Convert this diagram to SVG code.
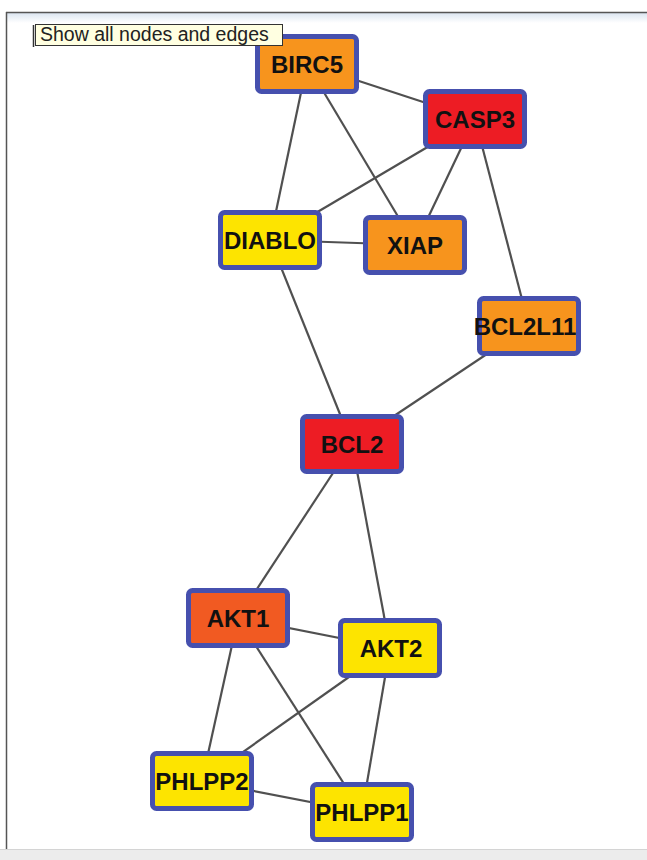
<svg xmlns="http://www.w3.org/2000/svg" width="647" height="860" viewBox="0 0 647 860">
<defs>
<linearGradient id="topg" x1="0" y1="0" x2="0" y2="1">
<stop offset="0" stop-color="#dbe5f0"/>
<stop offset="1" stop-color="#ffffff"/>
</linearGradient>
</defs>
<style>
.node rect{stroke:#4650ae;stroke-width:5}
.node text{font-family:"Liberation Sans",Arial,sans-serif;font-weight:bold;font-size:24px;fill:#111;text-anchor:middle}
.or{fill:#f7941d}
.rd{fill:#ed1c24}
.ye{fill:#fde400}
.ak{fill:#f15a22}
#edges line{stroke:#505050;stroke-width:2.2}
</style>
<rect x="0" y="0" width="647" height="860" fill="#ffffff"/>
<rect x="6" y="13" width="641" height="10" fill="url(#topg)"/>
<line x1="6" y1="12.5" x2="647" y2="12.5" stroke="#555" stroke-width="1.5"/>
<line x1="6.5" y1="12" x2="6.5" y2="850" stroke="#555" stroke-width="1.5"/>
<rect x="0" y="850" width="647" height="10" fill="#ececec"/>
<line x1="0" y1="849.5" x2="647" y2="849.5" stroke="#d4d4d4" stroke-width="1"/>
<g id="edges">
<line x1="307" y1="64" x2="475" y2="119"/>
<line x1="307" y1="64" x2="270" y2="240"/>
<line x1="307" y1="64" x2="415" y2="245"/>
<line x1="475" y1="119" x2="270" y2="240"/>
<line x1="475" y1="119" x2="415" y2="245"/>
<line x1="475" y1="119" x2="529" y2="326"/>
<line x1="270" y1="240" x2="415" y2="245"/>
<line x1="270" y1="240" x2="352" y2="444"/>
<line x1="529" y1="326" x2="352" y2="444"/>
<line x1="352" y1="444" x2="238" y2="618"/>
<line x1="352" y1="444" x2="390" y2="648"/>
<line x1="238" y1="618" x2="390" y2="648"/>
<line x1="238" y1="618" x2="202" y2="781"/>
<line x1="238" y1="618" x2="362" y2="812"/>
<line x1="390" y1="648" x2="202" y2="781"/>
<line x1="390" y1="648" x2="362" y2="812"/>
<line x1="202" y1="781" x2="362" y2="812"/>
</g>
<g id="node-BIRC5" class="node"><rect class="or" x="257.5" y="36.5" width="99" height="55" rx="4"/><text x="307" y="73">BIRC5</text></g>
<g id="node-CASP3" class="node"><rect class="rd" x="425.5" y="91.5" width="99" height="55" rx="4"/><text x="475" y="128">CASP3</text></g>
<g id="node-DIABLO" class="node"><rect class="ye" x="220.5" y="212.5" width="99" height="55" rx="4"/><text x="270" y="249">DIABLO</text></g>
<g id="node-XIAP" class="node"><rect class="or" x="365.5" y="217.5" width="99" height="55" rx="4"/><text x="415" y="254">XIAP</text></g>
<g id="node-BCL2L11" class="node"><rect class="or" x="479.5" y="298.5" width="99" height="55" rx="4"/><text x="525" y="335">BCL2L11</text></g>
<g id="node-BCL2" class="node"><rect class="rd" x="302.5" y="416.5" width="99" height="55" rx="4"/><text x="352" y="453">BCL2</text></g>
<g id="node-AKT1" class="node"><rect class="ak" x="188.5" y="590.5" width="99" height="55" rx="4"/><text x="238" y="627">AKT1</text></g>
<g id="node-AKT2" class="node"><rect class="ye" x="340.5" y="620.5" width="99" height="55" rx="4"/><text x="391" y="657">AKT2</text></g>
<g id="node-PHLPP2" class="node"><rect class="ye" x="152.5" y="753.5" width="99" height="55" rx="4"/><text x="202" y="790">PHLPP2</text></g>
<g id="node-PHLPP1" class="node"><rect class="ye" x="312.5" y="784.5" width="99" height="55" rx="4"/><text x="362" y="821">PHLPP1</text></g>
<g id="tooltip">
<rect x="35.5" y="24.5" width="247" height="21" fill="#ffffe1" stroke="#333" stroke-width="1"/>
<line x1="33.5" y1="25" x2="33.5" y2="47" stroke="#333" stroke-width="1.5"/>
<text x="40" y="41" font-family="'Liberation Sans',Arial,sans-serif" font-size="19.5px" fill="#222">Show all nodes and edges</text>
</g>
</svg>
